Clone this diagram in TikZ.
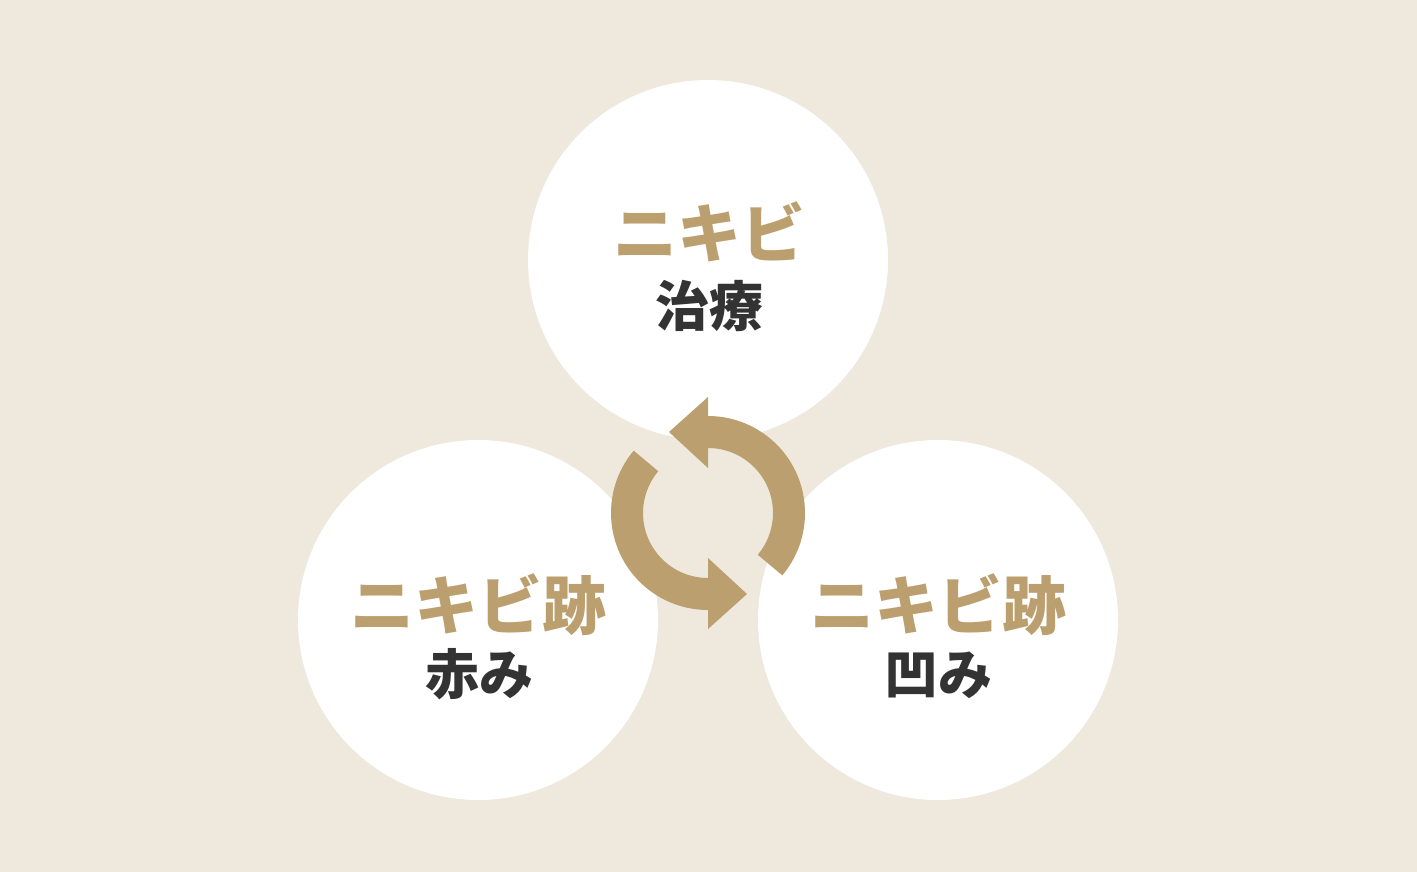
\documentclass[tikz,border=0pt]{standalone}
\usepackage{fontspec}
\newfontfamily\jp{Noto Sans CJK JP}
\definecolor{bgc}{HTML}{EEE8DD}
\definecolor{goldc}{HTML}{BC9F6E}
\definecolor{darkc}{HTML}{333333}
\tikzset{
  bubble/.style={fill=white},
  title/.style={text=goldc, font=\jp\bfseries\fontsize{64pt}{64pt}\selectfont, inner sep=0pt, anchor=base},
  sub/.style={text=darkc, font=\jp\bfseries\fontsize{54pt}{54pt}\selectfont, inner sep=0pt, anchor=base},
  cyc/.style={fill=goldc}
}
\begin{document}
\begin{tikzpicture}[x=1pt,y=-1pt]
\fill[bgc] (0,0) rectangle (1417,872);
\useasboundingbox (0,0) rectangle (1417,872);
\fill[bubble] (708,260) circle[radius=180];
\fill[bubble] (478,620) circle[radius=180];
\fill[bubble] (938,620) circle[radius=180];
\begin{scope}[shift={(708,513)}]
  \fill[cyc] (40:97) arc[start angle=40,end angle=-90,radius=97] -- (0,-116) -- (-39,-81) -- (0,-45) -- (-90:65) arc[start angle=-90,end angle=40,radius=65] -- cycle;
  \begin{scope}[rotate=180]
  \fill[cyc] (40:97) arc[start angle=40,end angle=-90,radius=97] -- (0,-116) -- (-39,-81) -- (0,-45) -- (-90:65) arc[start angle=-90,end angle=40,radius=65] -- cycle;
  \end{scope}
\end{scope}
\node[title] (t1) at (709,257) {ニキビ};
\node[sub] (s1) at (709,326) {治療};
\node[title] (t2) at (478.5,629.5) {ニキビ跡};
\node[sub] (s2) at (479,694) {赤み};
\node[title] (t3) at (938.5,629.5) {ニキビ跡};
\node[sub] (s3) at (938.5,694) {凹み};
\end{tikzpicture}
\end{document}
